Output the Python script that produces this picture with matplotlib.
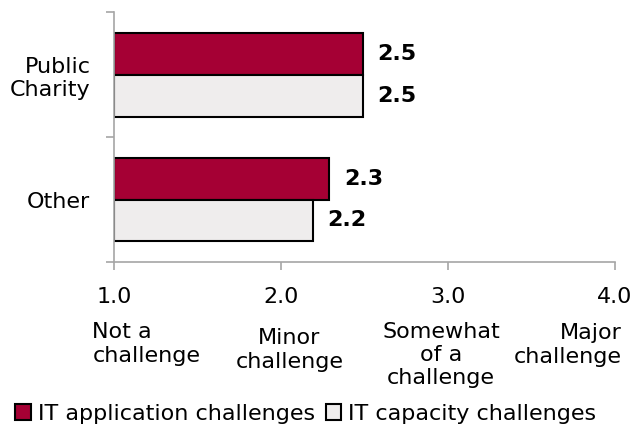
import matplotlib
matplotlib.use('Agg')
import matplotlib.pyplot as plt
import numpy as np

plt.rcParams['font.family'] = ['DejaVu Sans']

groups = ['Public\nCharity', 'Other']
series = ['IT application challenges', 'IT capacity challenges']
app_vals = [2.49, 2.29]
cap_vals = [2.49, 2.19]
xticks = [1.0, 2.0, 3.0, 4.0]
scale_labels = ['Not a\nchallenge', 'Minor\nchallenge', 'Somewhat\nof a\nchallenge', 'Major\nchallenge']

red = '#a50034'
light = '#efeded'
axis_grey = '#a6a6a6'

fig = plt.figure(figsize=(6.37, 4.33), dpi=100)
ax = fig.add_axes([0.179, 0.395, 0.786, 0.577])

y = np.arange(len(groups))
h = 0.336
ax.barh(y - h/2, np.array(app_vals) - 1, left=1, height=h, color=red, edgecolor='black', linewidth=1.5, label=series[0])
ax.barh(y + h/2, np.array(cap_vals) - 1, left=1, height=h, color=light, edgecolor='black', linewidth=1.5, label=series[1])

for yi, v in zip(y - h/2, app_vals):
    ax.text(v + 0.09, yi, f'{v:.1f}', va='center', ha='left', fontsize=16, fontweight='bold')
for yi, v in zip(y + h/2, cap_vals):
    ax.text(v + 0.09, yi, f'{v:.1f}', va='center', ha='left', fontsize=16, fontweight='bold')

ax.set_xlim(1, 4)
ax.set_ylim(1.5, -0.5)
ax.set_xticks(xticks)
ax.set_xticklabels([f'{t:.1f}' for t in xticks], fontsize=16)
ax.set_yticks(y)
ax.set_yticklabels(groups, fontsize=16, ha='right')
ax.set_yticks([-0.5, 0.5, 1.5], minor=True)
ax.tick_params(axis='y', which='major', length=0, pad=17)
ax.tick_params(axis='y', which='minor', length=6, color=axis_grey, width=1.2)
ax.tick_params(axis='x', length=6, color=axis_grey, width=1.2, pad=12)

for s in ['top', 'right']:
    ax.spines[s].set_visible(False)
for s in ['left', 'bottom']:
    ax.spines[s].set_color(axis_grey)
    ax.spines[s].set_linewidth(1.2)

tr = ax.get_xaxis_transform()
# descriptive scale labels under the ticks (figure pixel positions converted to axes coords)
def ay(py):
    return (1 - py / 433 - 0.395) / 0.577
ax.text(0.87, ay(344), scale_labels[0], transform=tr, ha='left', va='center', fontsize=16, linespacing=1.2, clip_on=False)
ax.text(2.05, ay(350), scale_labels[1], transform=tr, ha='center', va='center', fontsize=16, linespacing=1.2, clip_on=False)
ax.text(2.96, ay(355), scale_labels[2], transform=tr, ha='center', va='center', fontsize=16, linespacing=1.2, clip_on=False)
ax.text(4.04, ay(345), scale_labels[3], transform=tr, ha='right', va='center', fontsize=16, linespacing=1.2, clip_on=False)

fig.legend(loc='lower center', bbox_to_anchor=(0.48, -0.025), ncol=2, frameon=False, fontsize=16,
           handlelength=0.7, handleheight=0.7, handletextpad=0.3, columnspacing=0.5)

fig.savefig('out.png', dpi=100)
